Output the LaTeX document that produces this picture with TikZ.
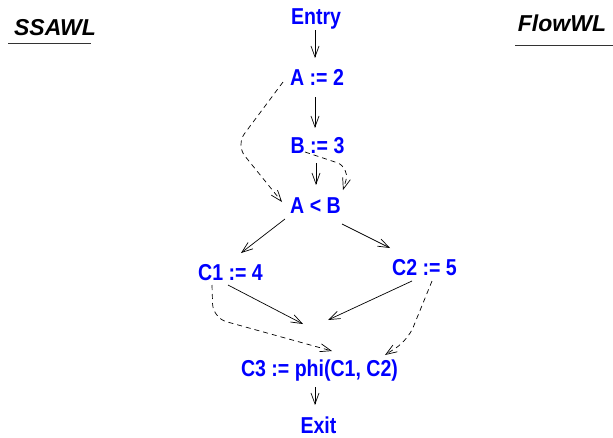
\documentclass[tikz,border=0pt]{standalone}
\usepackage{fontspec}
\setmainfont{Liberation Sans}
\newfontfamily\labfont[FakeStretch=0.85]{Liberation Sans}
\usetikzlibrary{arrows.meta}
\definecolor{labblue}{RGB}{0,0,255}
\tikzset{
  lab/.style={anchor=base, inner sep=0pt, text=labblue, font=\labfont\bfseries\fontsize{23}{23}\selectfont},
  ttl/.style={anchor=base, inner sep=0pt, font=\bfseries\itshape\fontsize{23}{23}\selectfont},
  arr/.style={line width=0.7pt, -{Straight Barb[length=11pt,width=8pt]}},
  darr/.style={arr, dash pattern=on 5pt off 4pt, rounded corners=14pt},
  uline/.style={line width=0.9pt, black!80}
}
\begin{document}
\begin{tikzpicture}[x=1pt,y=-1pt]
\useasboundingbox (0,0) rectangle (613,437);
\node[ttl] (ssawl) at (55,35) {SSAWL};
\node[ttl] (flowwl) at (562,31) {FlowWL};
\draw[uline] ([shift={(-47,8)}]ssawl.base) -- ([shift={(36,8)}]ssawl.base);
\draw[uline] ([shift={(-47,14)}]flowwl.base) -- ([shift={(51,14)}]flowwl.base);

\node[lab] (entry) at (316,24) {Entry};
\node[lab] (a2) at (317,85) {A := 2};
\node[lab] (b3) at (317.5,153) {B := 3};
\node[lab] (ab) at (315.5,213) {A < B};
\node[lab] (c1) at (230.5,280) {C1 := 4};
\node[lab] (c2) at (424.5,275) {C2 := 5};
\node[lab] (c3) at (319.5,376) {C3 := phi(C1, C2)};
\node[lab] (exit) at (318.5,433) {Exit};

\draw[arr] ([shift={(-1,6)}]entry.base) -- ([shift={(-2,-27)}]a2.base);
\draw[arr] ([shift={(-2,12)}]a2.base) -- ([shift={(-2.5,-25)}]b3.base);
\draw[arr] ([shift={(-1.5,10)}]b3.base) -- ([shift={(0.5,-28)}]ab.base);
\draw[arr] ([shift={(-30.5,6)}]ab.base) -- ([shift={(10.5,-27)}]c1.base);
\draw[arr] ([shift={(26.5,11)}]ab.base) -- ([shift={(-34.5,-27)}]c2.base);
\draw[arr] ([shift={(-2.5,5)}]c1.base) -- ([shift={(-16.5,-52)}]c3.base);
\draw[arr] ([shift={(-12.5,6)}]c2.base) -- ([shift={(8.5,-56)}]c3.base);
\draw[arr] ([shift={(-4.5,11)}]c3.base) -- ([shift={(-3.5,-28)}]exit.base);

\draw[darr] ([shift={(-34,-3)}]a2.base) -- (236,145) -- ([shift={(-33.5,-11)}]ab.base);
\draw[darr] ([shift={(-12.5,-1)}]b3.base) -- (350,167) -- ([shift={(27.5,-23)}]ab.base);
\draw[darr] ([shift={(-18.5,5)}]c1.base) -- (213,318) -- ([shift={(12.5,-25)}]c3.base);
\draw[darr] ([shift={(7.5,6)}]c2.base) -- (408,340) -- ([shift={(65.5,-21)}]c3.base);
\end{tikzpicture}
\end{document}
